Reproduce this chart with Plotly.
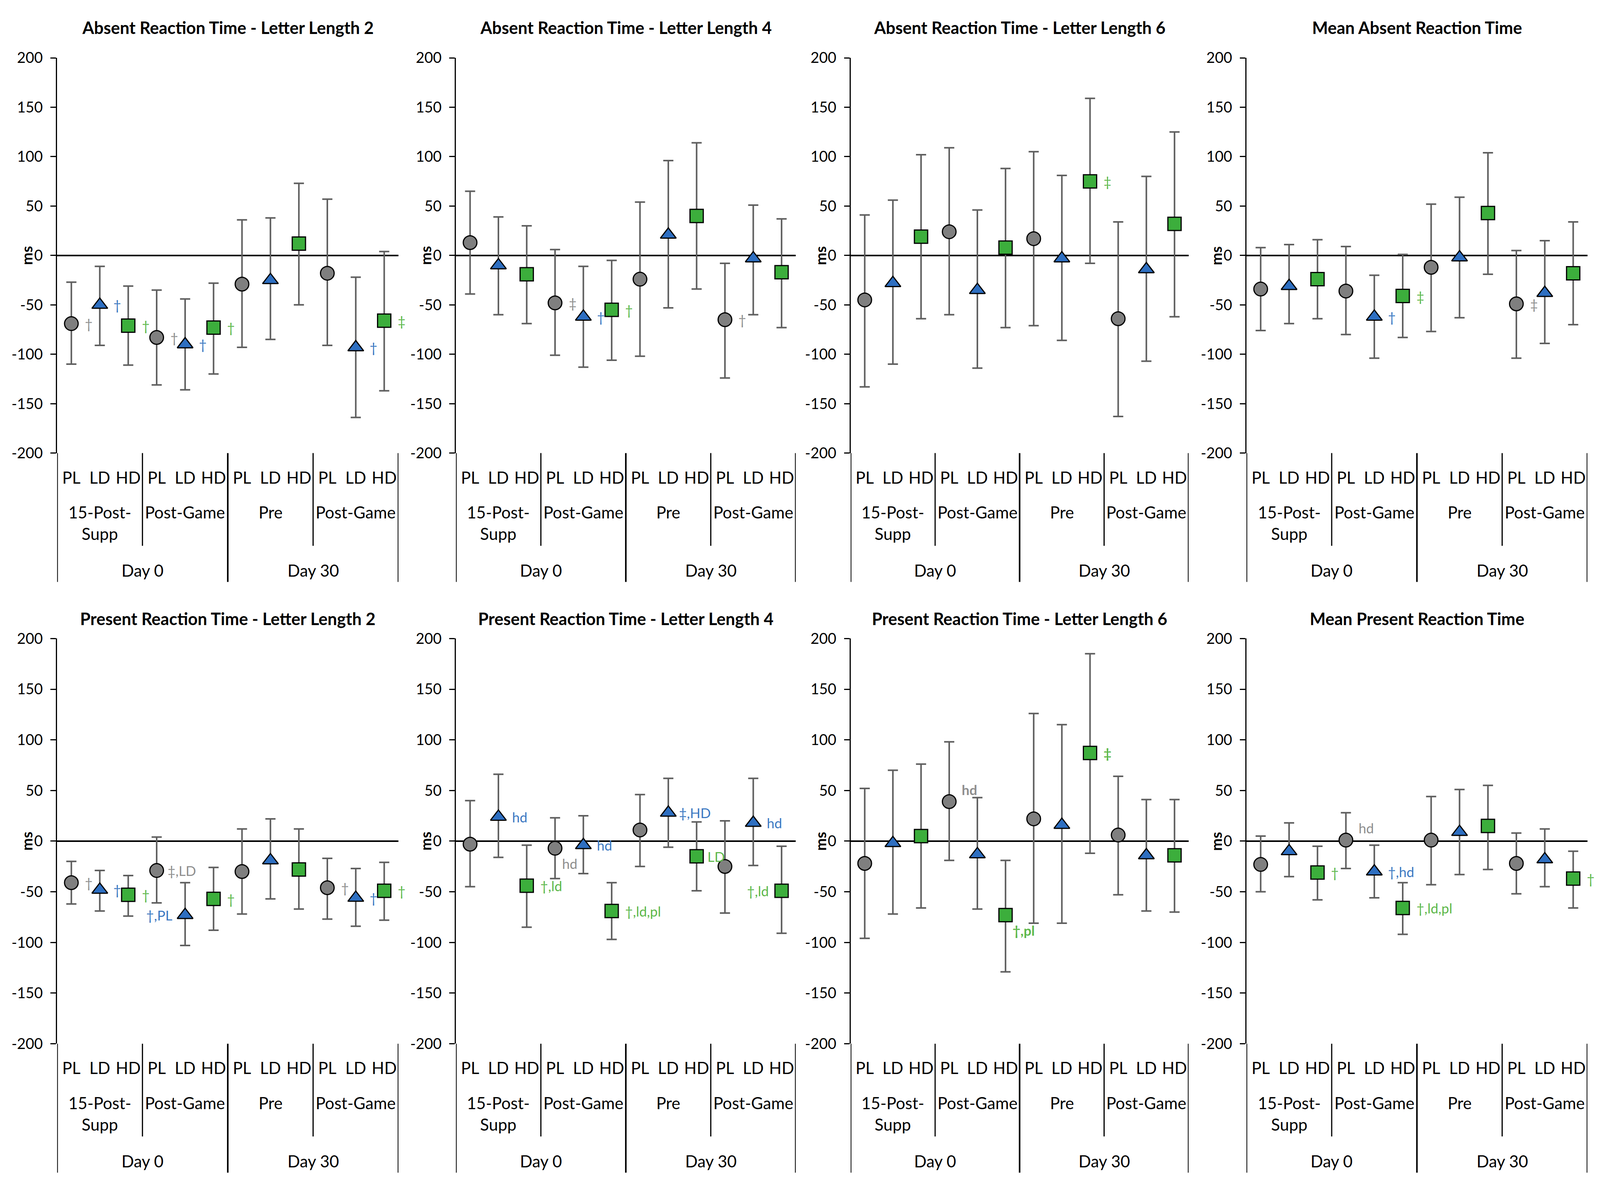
import plotly.graph_objects as go

W, H = 4313, 3051  # reference layout size used for the domain fractions

# ---------------- data ----------------
days = ["Day 0", "Day 30"]
timepoints = [["15-Post-<br>Supp", "Post-Game"], ["Pre", "Post-Game"]]
doses = ["PL", "LD", "HD"]
yticks = [-200, -150, -100, -50, 0, 50, 100, 150, 200]

titles = [
    "Absent Reaction Time - Letter Length 2",
    "Absent Reaction Time - Letter Length 4",
    "Absent Reaction Time - Letter Length 6",
    "Mean Absent Reaction Time",
    "Present Reaction Time - Letter Length 2",
    "Present Reaction Time - Letter Length 4",
    "Present Reaction Time - Letter Length 6",
    "Mean Present Reaction Time",
]

abs2_mean = [-69, -50, -71, -83, -90, -73, -29, -25, 12, -18, -93, -66]
abs2_low = [-110, -91, -111, -131, -136, -120, -93, -85, -50, -91, -164, -137]
abs2_high = [-27, -11, -31, -35, -44, -28, 36, 38, 73, 57, -22, 4]

abs4_mean = [13, -10, -19, -48, -62, -55, -24, 21, 40, -65, -3, -17]
abs4_low = [-39, -60, -69, -101, -113, -106, -102, -53, -34, -124, -60, -73]
abs4_high = [65, 39, 30, 6, -11, -5, 54, 96, 114, -8, 51, 37]

abs6_mean = [-45, -28, 19, 24, -35, 8, 17, -3, 75, -64, -14, 32]
abs6_low = [-133, -110, -64, -60, -114, -73, -71, -86, -8, -163, -107, -62]
abs6_high = [41, 56, 102, 109, 46, 88, 105, 81, 159, 34, 80, 125]

absm_mean = [-34, -31, -24, -36, -62, -41, -12, -2, 43, -49, -38, -18]
absm_low = [-76, -69, -64, -80, -104, -83, -77, -63, -19, -104, -89, -70]
absm_high = [8, 11, 16, 9, -20, 1, 52, 59, 104, 5, 15, 34]

pre2_mean = [-41, -48, -53, -29, -73, -57, -30, -19, -28, -46, -56, -49]
pre2_low = [-62, -69, -74, -61, -103, -88, -72, -57, -67, -77, -84, -78]
pre2_high = [-20, -29, -34, 4, -41, -26, 12, 22, 12, -17, -27, -21]

pre4_mean = [-3, 24, -44, -7, -4, -69, 11, 28, -15, -25, 18, -49]
pre4_low = [-45, -16, -85, -37, -32, -97, -25, -6, -49, -71, -24, -91]
pre4_high = [40, 66, -4, 23, 25, -41, 46, 62, 19, 20, 62, -5]

pre6_mean = [-22, -2, 5, 39, -13, -73, 22, 16, 87, 6, -14, -14]
pre6_low = [-96, -72, -66, -19, -67, -129, -81, -81, -12, -53, -69, -70]
pre6_high = [52, 70, 76, 98, 43, -19, 126, 115, 185, 64, 41, 41]

prem_mean = [-23, -10, -31, 1, -30, -66, 1, 9, 15, -22, -18, -37]
prem_low = [-50, -35, -58, -27, -56, -92, -43, -33, -28, -52, -45, -66]
prem_high = [5, 18, -5, 28, -4, -41, 44, 51, 55, 8, 12, -10]

abs2_marks = [(0, "†", "r"), (1, "†", "r"), (2, "†", "r"), (3, "†", "r"), (4, "†", "r"),
              (5, "†", "r"), (10, "†", "r"), (11, "‡", "r")]
abs4_marks = [(3, "‡", "r"), (4, "†", "r"), (5, "†", "r"), (9, "†", "r")]
abs6_marks = [(8, "‡", "r")]
absm_marks = [(4, "†", "r"), (5, "‡", "r"), (9, "‡", "r")]
pre2_marks = [(0, "†", "r"), (1, "†", "r"), (2, "†", "r"), (3, "‡,LD", "rn"), (4, "†,PL", "l"),
              (5, "†", "r"), (9, "†", "r"), (10, "†", "r"), (11, "†", "r")]
pre4_marks = [(1, "hd", "r"), (2, "†,ld", "r"), (3, "hd", "rb"), (4, "hd", "r"), (5, "†,ld,pl", "r"),
              (7, "‡,HD", "rn"), (8, "LD", "rn"), (10, "hd", "r"), (11, "†,ld", "l")]
pre6_marks = [(3, "hd", "ra"), (5, "†,pl", "rb"), (8, "‡", "r")]
prem_marks = [(2, "†", "r"), (3, "hd", "ra"), (4, "†,hd", "r"), (5, "†,ld,pl", "r"), (11, "†", "r")]

panels = [
    (abs2_mean, abs2_low, abs2_high, abs2_marks),
    (abs4_mean, abs4_low, abs4_high, abs4_marks),
    (abs6_mean, abs6_low, abs6_high, abs6_marks),
    (absm_mean, absm_low, absm_high, absm_marks),
    (pre2_mean, pre2_low, pre2_high, pre2_marks),
    (pre4_mean, pre4_low, pre4_high, pre4_marks),
    (pre6_mean, pre6_low, pre6_high, pre6_marks),
    (prem_mean, prem_low, prem_high, prem_marks),
]
bold_marks = [False, False, False, False, False, False, True, False]

# ---------------- style ----------------
FONT = "Lato"
marker_fill = ["#7f7f7f", "#2e6fc1", "#3cae3c"]
mark_color = ["#8e8e8e", "#3b78c2", "#5db84a"]
symbols = ["circle", "triangle-up", "square"]
msizes = [35, 35, 34]
ERR = "#5f5f5f"

col_dom = [(154, 1074), (1229, 2145), (2293, 3204), (3360, 4279)]
row_dom = [(125, 1152), (1634, 2687)]
title_y = [46, 1582]

cats = []
for di, day in enumerate(days):
    for tp in timepoints[di]:
        for ds in doses:
            cats.append(f"{day}|{tp}|{ds}")
ticktext = [c.split("|")[2] for c in cats]

fig = go.Figure()
layout = dict(
    autosize=True,
    margin=dict(l=0, r=0, t=0, b=0),
    paper_bgcolor="white", plot_bgcolor="white",
    showlegend=False, font=dict(family=FONT, color="black"),
)
annotations = []
shapes = []

def py(px):
    return 1 - px / H

for p, (mean, low, high, marks) in enumerate(panels):
    r, c = divmod(p, 4)
    n = p + 1
    xa, ya = f"x{n}", f"y{n}"
    x0, x1 = col_dom[c]
    t, b = row_dom[r]
    for d in range(3):
        idx = [d + 3 * k for k in range(4)]
        fig.add_trace(go.Scatter(
            x=[cats[i] for i in idx],
            y=[mean[i] for i in idx],
            mode="markers",
            xaxis=xa, yaxis=ya,
            marker=dict(symbol=symbols[d], size=msizes[d], color=marker_fill[d],
                        line=dict(color="black", width=3)),
            error_y=dict(type="data", symmetric=False,
                         array=[high[i] - mean[i] for i in idx],
                         arrayminus=[mean[i] - low[i] for i in idx],
                         color=ERR, thickness=4, width=13),
            hoverinfo="skip",
        ))
    layout[f"xaxis{n}"] = dict(
        domain=[x0 / W, x1 / W], anchor=ya, type="category",
        categoryorder="array", categoryarray=cats, range=[-0.5, 11.5],
        showline=False, showgrid=False, zeroline=False, ticks="",
        tickmode="array", tickvals=cats, ticktext=ticktext,
        tickfont=dict(size=42, family=FONT, color="black"),
        ticklabelstandoff=35,
    )
    layout[f"yaxis{n}"] = dict(
        domain=[py(b), py(t)], anchor=xa, range=[-200, 200],
        tickmode="array", tickvals=yticks, ticktext=[str(v) for v in yticks],
        showline=True, linecolor="black", linewidth=3,
        ticks="outside", ticklen=14, tickwidth=3, tickcolor="black",
        ticklabelstandoff=12,
        zeroline=True, zerolinecolor="black", zerolinewidth=4,
        showgrid=False, tickfont=dict(size=38, family=FONT, color="black"),
    )
    annotations.append(dict(text=f"<b>{titles[p]}</b>", xref="paper", yref="paper",
                            x=(x0 + x1) / 2 / W, y=py(title_y[r]), showarrow=False,
                            xanchor="center", yanchor="middle",
                            font=dict(size=43, family=FONT, color="black")))
    annotations.append(dict(text="<b>ms</b>", xref="paper", yref=ya, x=x0 / W, xshift=-78, y=0,
                            textangle=-90, showarrow=False, xanchor="center", yanchor="middle",
                            font=dict(size=38, family=FONT, color="black")))
    k = 0
    for di, day in enumerate(days):
        for tp in timepoints[di]:
            annotations.append(dict(text=tp, xref=xa, yref="paper", x=3 * k + 1, y=py(b + 126),
                                    showarrow=False, xanchor="center", yanchor="top",
                                    font=dict(size=42, family=FONT, color="black")))
            k += 1
        annotations.append(dict(text=day, xref=xa, yref="paper", x=6 * di + 2.5, y=py(b + 305),
                                showarrow=False, xanchor="center", yanchor="middle",
                                font=dict(size=42, family=FONT, color="black")))
    for xv in [-0.5, 5.5, 11.5]:
        shapes.append(dict(type="line", xref=xa, yref="paper", x0=xv, x1=xv,
                           y0=py(b), y1=py(b + 335), line=dict(color="black", width=4)))
    for xv in [2.5, 8.5]:
        shapes.append(dict(type="line", xref=xa, yref="paper", x0=xv, x1=xv,
                           y0=py(b), y1=py(b + 241), line=dict(color="black", width=3)))
    for (i, txt, pl) in marks:
        col = mark_color[i % 3]
        txt_f = f"<b>{txt}</b>" if bold_marks[p] else txt
        if pl == "r":
            ax, ay, anc = i + 0.45, mean[i], "left"
        elif pl == "rn":
            ax, ay, anc = i + 0.35, mean[i], "left"
        elif pl == "l":
            ax, ay, anc = i - 0.42, mean[i], "right"
        elif pl == "rb":
            ax, ay, anc = i + 0.22, mean[i] - 15, "left"
        else:
            ax, ay, anc = i + 0.42, mean[i] + 12, "left"
        annotations.append(dict(text=txt_f, xref=xa, yref=ya, x=ax, y=ay, showarrow=False,
                                xanchor=anc, yanchor="middle",
                                font=dict(size=35, family=FONT, color=col)))

layout["annotations"] = annotations
layout["shapes"] = shapes
fig.update_layout(**layout)

post = """
document.documentElement.style.margin='0';document.body.style.margin='0';
document.documentElement.style.overflow='hidden';
var gd=document.getElementById('{plot_id}');
Plotly.Plots.resize(gd);
"""
fig.write_html("out.html", default_width="100vw", default_height="100vh",
               config={"responsive": True, "displayModeBar": False}, post_script=post)
